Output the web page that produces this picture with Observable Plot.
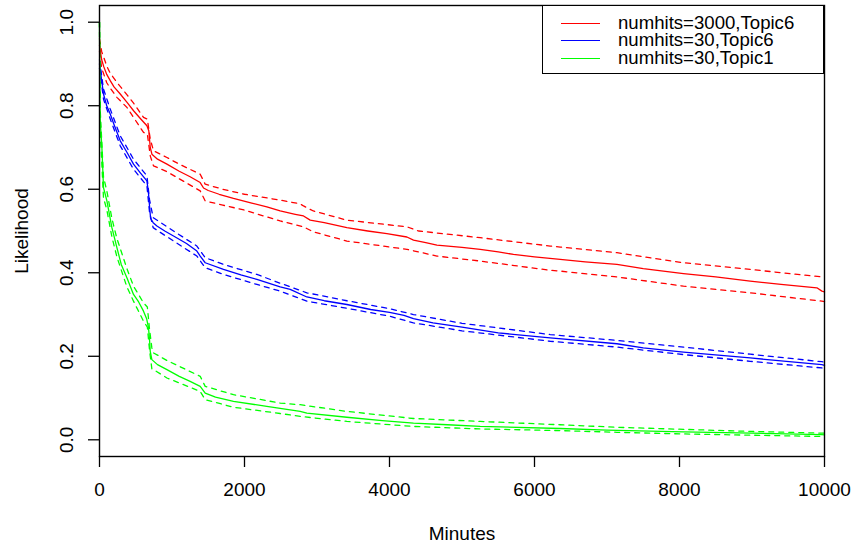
<!DOCTYPE html>
<html>
<head>
<meta charset="utf-8">
<script src="https://cdn.jsdelivr.net/npm/d3@7"></script>
<script src="https://cdn.jsdelivr.net/npm/@observablehq/plot@0.6"></script>
<style>
  body { margin: 0; background: #fff; }
  #wrap { position: relative; width: 853px; height: 543px; font-family: "Liberation Sans", Arial, Helvetica, sans-serif; }
  #legend { position: absolute; left: 542px; top: 5px; width: 282px; height: 69px; border: 1.3px solid #000; background: #fff; box-sizing: border-box; }
  .row { position: absolute; left: 0; height: 0; }
  .sw { position: absolute; left: 18px; width: 39px; height: 1px; top: 0px; }
  .lab { position: absolute; left: 75px; top: -9px; font-size: 18.6px; line-height: 17px; height: 17px; white-space: nowrap; color: #000; }
</style>
</head>
<body>
<div id="wrap"></div>
<script>
// ---- data ----
const xTicks = [0, 2000, 4000, 6000, 8000, 10000];
const yTicks = [0.0, 0.2, 0.4, 0.6, 0.8, 1.0];
const seriesNames = ["numhits=3000,Topic6", "numhits=30,Topic6", "numhits=30,Topic1"];
const seriesColors = ["#ff0000", "#0000ff", "#00ff00"];

const redEst = [[0,0.945],[30,0.91],[60,0.893],[100,0.875],[148,0.86],[200,0.845],[286,0.828],[380,0.808],[470,0.788],[560,0.77],[654,0.752],[680,0.74],[700,0.70],[723,0.684],[800,0.672],[930,0.66],[1100,0.643],[1250,0.63],[1389,0.616],[1435,0.603],[1500,0.597],[1650,0.588],[1848,0.578],[2100,0.567],[2308,0.558],[2492,0.548],[2700,0.54],[2814,0.536],[2906,0.526],[3100,0.52],[3412,0.508],[3700,0.50],[3964,0.4935],[4240,0.4856],[4331,0.478],[4500,0.472],[4654,0.4664],[5000,0.461],[5251,0.456],[5500,0.45],[5710,0.444],[6000,0.438],[6354,0.432],[6700,0.426],[7137,0.420],[7500,0.41],[8055,0.398],[8500,0.39],[8975,0.38],[9400,0.372],[9895,0.364],[9964,0.356],[10000,0.354]];
const redUpper = [[0,0.96],[30,0.93],[100,0.895],[148,0.878],[240,0.856],[380,0.826],[470,0.806],[607,0.772],[660,0.768],[700,0.72],[745,0.692],[930,0.676],[1100,0.66],[1389,0.636],[1458,0.612],[1700,0.6],[2000,0.588],[2492,0.574],[2768,0.565],[2814,0.56],[2950,0.548],[3412,0.526],[4240,0.51],[4400,0.5],[5251,0.484],[6216,0.464],[6354,0.4616],[7137,0.448],[8055,0.424],[8975,0.408],[9964,0.39],[10000,0.389]];
const redLower = [[0,0.93],[30,0.89],[100,0.855],[148,0.842],[240,0.82],[378,0.796],[470,0.772],[607,0.736],[660,0.732],[700,0.68],[745,0.656],[930,0.642],[1100,0.625],[1389,0.596],[1458,0.572],[1700,0.562],[2000,0.55],[2492,0.524],[2814,0.51],[2950,0.498],[3412,0.476],[4240,0.456],[4400,0.45],[4654,0.44],[5251,0.428],[6216,0.406],[6354,0.404],[7137,0.39],[8055,0.368],[8975,0.352],[9964,0.332],[10000,0.331]];

const blueEst = [[0,0.90],[30,0.86],[55,0.828],[100,0.80],[148,0.78],[200,0.755],[286,0.716],[380,0.688],[469,0.66],[560,0.64],[654,0.62],[676,0.59],[690,0.56],[705,0.53],[740,0.52],[792,0.512],[900,0.50],[1021,0.488],[1200,0.47],[1343,0.452],[1389,0.44],[1458,0.424],[1710,0.408],[1950,0.395],[2171,0.384],[2492,0.366],[2630,0.36],[2860,0.342],[3100,0.333],[3412,0.324],[3740,0.312],[4000,0.305],[4200,0.298],[4330,0.29],[4600,0.28],[5000,0.27],[5500,0.256],[6216,0.244],[7137,0.23],[7500,0.22],[8055,0.21],[8975,0.196],[9964,0.18],[10000,0.178]];
const blueUpper = [[0,0.91],[55,0.84],[148,0.792],[286,0.728],[469,0.672],[654,0.632],[690,0.575],[740,0.532],[1021,0.5],[1343,0.464],[1458,0.436],[1710,0.42],[2171,0.396],[2492,0.375],[2860,0.352],[3412,0.333],[4000,0.314],[4330,0.3],[5000,0.279],[6216,0.252],[7137,0.238],[8055,0.222],[8975,0.205],[9964,0.187],[10000,0.186]];
const blueLower = [[0,0.89],[55,0.816],[148,0.768],[286,0.704],[469,0.648],[654,0.608],[690,0.545],[740,0.508],[1021,0.476],[1343,0.44],[1458,0.412],[1710,0.396],[2171,0.372],[2492,0.356],[2860,0.332],[3412,0.315],[4000,0.296],[4330,0.28],[5000,0.261],[6216,0.236],[7137,0.222],[8055,0.204],[8975,0.188],[9964,0.172],[10000,0.171]];

const greenEst = [[0,1.0],[5,0.85],[10,0.764],[33,0.70],[55,0.604],[79,0.588],[102,0.572],[171,0.508],[240,0.46],[300,0.42],[378,0.388],[469,0.348],[540,0.33],[607,0.308],[650,0.29],[676,0.268],[690,0.24],[700,0.212],[722,0.192],[800,0.18],[930,0.168],[1100,0.152],[1250,0.14],[1389,0.128],[1458,0.112],[1600,0.102],[1848,0.092],[2308,0.08],[2492,0.075],[2768,0.068],[2860,0.064],[3412,0.054],[3900,0.046],[4331,0.040],[4800,0.036],[5251,0.032],[6354,0.027],[7000,0.023],[8055,0.019],[9000,0.016],[9964,0.0125],[10000,0.012]];
const greenUpper = [[0,1.0],[10,0.79],[55,0.63],[102,0.595],[171,0.53],[240,0.482],[378,0.41],[469,0.368],[607,0.328],[660,0.318],[690,0.265],[722,0.22],[745,0.208],[930,0.19],[1389,0.152],[1458,0.128],[1848,0.108],[2492,0.088],[2768,0.084],[3412,0.068],[4331,0.051],[5251,0.044],[6354,0.036],[7137,0.03],[8055,0.025],[9000,0.02],[9964,0.016],[10000,0.016]];
const greenLower = [[0,1.0],[10,0.74],[55,0.58],[102,0.55],[171,0.486],[240,0.438],[378,0.366],[469,0.332],[607,0.284],[660,0.27],[690,0.215],[722,0.17],[745,0.168],[930,0.148],[1389,0.116],[1458,0.096],[1848,0.078],[2492,0.063],[2768,0.056],[3412,0.044],[4331,0.032],[5251,0.026],[6354,0.022],[7137,0.018],[8055,0.014],[9000,0.011],[9964,0.008],[10000,0.008]];

// ---- build table ----
const groups = [
  {est: redEst, up: redUpper, lo: redLower},
  {est: blueEst, up: blueUpper, lo: blueLower},
  {est: greenEst, up: greenUpper, lo: greenLower}
];
const solid = [], dashed = [];
groups.forEach((g, i) => {
  g.est.forEach(([t, v]) => solid.push({t, v, s: seriesNames[i]}));
  g.up.forEach(([t, v]) => dashed.push({t, v, s: seriesNames[i], k: "up"}));
  g.lo.forEach(([t, v]) => dashed.push({t, v, s: seriesNames[i], k: "lo"}));
});

const font = '"Liberation Sans", Arial, Helvetica, sans-serif';
const fs = 19;

const chart = Plot.plot({
  width: 853,
  height: 543,
  marginLeft: 99,
  marginRight: 29,
  marginTop: 5,
  marginBottom: 87,
  style: {fontFamily: font, fontSize: fs + "px", background: "#fff", color: "#000"},
  x: {domain: [0, 10000], axis: null},
  y: {domain: [-0.04, 1.04], axis: null},
  color: {domain: seriesNames, range: seriesColors},
  marks: [
    Plot.line(dashed, {x: "t", y: "v", z: d => d.s + d.k, stroke: "s", strokeWidth: 1.3, strokeDasharray: "5,5"}),
    Plot.line(solid, {x: "t", y: "v", z: "s", stroke: "s", strokeWidth: 1.3}),
    Plot.frame({stroke: "#000", strokeWidth: 1.4}),
    Plot.axisX({ticks: xTicks, tickSize: 11, tickPadding: 15, tickFormat: d => String(d), label: null, fontSize: fs, stroke: "#000", strokeWidth: 1.3}),
    Plot.axisY({ticks: yTicks, tickSize: 11, tickPadding: 16, tickRotate: -90, textAnchor: "middle", lineAnchor: "bottom", tickFormat: d => d.toFixed(1), label: null, fontSize: fs, stroke: "#000", strokeWidth: 1.3}),
    Plot.text(["Minutes"], {frameAnchor: "bottom", dy: 83, lineAnchor: "bottom", text: d => d, fontSize: fs}),
    Plot.text(["Likelihood"], {frameAnchor: "left", dx: -72, rotate: -90, lineAnchor: "bottom", textAnchor: "middle", text: d => d, fontSize: fs})
  ]
});

const wrap = document.getElementById("wrap");
wrap.appendChild(chart);

// legend
const leg = document.createElement("div");
leg.id = "legend";
const rowTops = [17, 34, 52];
seriesNames.forEach((name, i) => {
  const row = document.createElement("div");
  row.className = "row";
  row.style.top = rowTops[i] + "px";
  const sw = document.createElement("div");
  sw.className = "sw";
  sw.style.background = seriesColors[i];
  const lab = document.createElement("div");
  lab.className = "lab";
  lab.textContent = name;
  row.appendChild(sw);
  row.appendChild(lab);
  leg.appendChild(row);
});
wrap.appendChild(leg);
</script>
</body>
</html>
